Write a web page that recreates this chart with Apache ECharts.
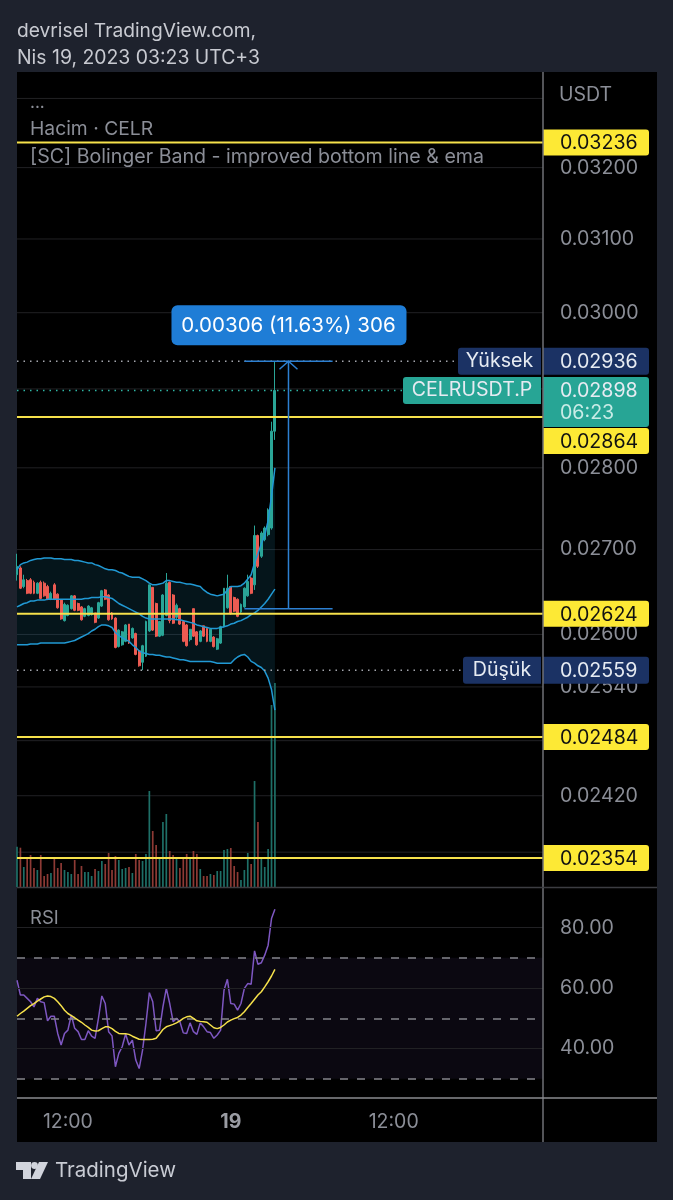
<!DOCTYPE html>
<html>
	<head>
		<meta charset="UTF-8">
		<title>CELRUSDT.P</title>
		<style>
			html, body { margin: 0; padding: 0; background: #1e222d; }
			#panel { position: absolute; left: 17px; top: 72px; width: 640px; height: 1070px; background: #000; }
			#main { position: absolute; left: 0; top: 0; width: 673px; height: 1200px; }
		</style>
	</head>
	<body>
		<div id="panel"></div>
		<div id="main"></div>
		<script src="https://cdn.jsdelivr.net/npm/echarts@6/dist/echarts.min.js"></script>
		<script type="text/javascript">
		// 15 minute bars
		var opens = [.02670,.02678,.02656,.02663,.02664,.02661,.02648,.02661,.02660,.02656,.02641,.02658,.02647,.02640,.02616,.02622,.02630,.02645,.02636,.02632,.02621,.02622,.02623,.02625,.02619,.02633,.02652,.02646,.02625,.02619,.02586,.02588,.02592,.02612,.02596,.02601,.02581,.02568,.02575,.02604,.02655,.02636,.02598,.02599,.02622,.02661,.02646,.02620,.02630,.02615,.02611,.02594,.02630,.02603,.02592,.02610,.02607,.02592,.02597,.02583,.02590,.02609,.02631,.02656,.02643,.02641,.02626,.02632,.02645,.02666,.02658,.02717,.02692,.02712,.02718,.02726,.02846];
		var closes = [.02680,.02654,.02664,.02648,.02648,.02648,.02660,.02642,.02645,.02641,.02648,.02641,.02631,.02618,.02635,.02634,.02645,.02628,.02628,.02617,.02630,.02633,.02631,.02614,.02637,.02651,.02641,.02617,.02618,.02585,.02605,.02603,.02611,.02590,.02607,.02577,.02564,.02587,.02615,.02658,.02605,.02598,.02615,.02646,.02660,.02616,.02613,.02634,.02612,.02592,.02587,.02606,.02598,.02588,.02604,.02598,.02592,.02606,.02586,.02595,.02609,.02654,.02654,.02624,.02627,.02621,.02635,.02654,.02662,.02648,.02717,.02680,.02720,.02726,.02748,.02846,.02898];
		var lows = [.02663,.02653,.02654,.02647,.02647,.02647,.02647,.02641,.02644,.02640,.02640,.02640,.02630,.02617,.02615,.02621,.02629,.02627,.02627,.02616,.02620,.02621,.02622,.02613,.02618,.02632,.02640,.02616,.02617,.02584,.02585,.02587,.02591,.02589,.02595,.02576,.02563,.02559,.02574,.02603,.02604,.02597,.02597,.02598,.02621,.02613,.02612,.02618,.02611,.02591,.02586,.02592,.02597,.02587,.02591,.02597,.02591,.02591,.02585,.02582,.02589,.02608,.02630,.02623,.02626,.02620,.02625,.02631,.02644,.02647,.02652,.02678,.02690,.02710,.02716,.02724,.02835];
		var highs = [.02695,.02680,.02670,.02665,.02666,.02663,.02661,.02663,.02662,.02658,.02650,.02660,.02648,.02641,.02637,.02635,.02646,.02646,.02637,.02633,.02631,.02634,.02632,.02625,.02638,.02652,.02653,.02647,.02626,.02620,.02606,.02604,.02612,.02612,.02608,.02602,.02582,.02588,.02616,.02658,.02655,.02637,.02615,.02647,.02672,.02662,.02647,.02636,.02631,.02616,.02612,.02606,.02630,.02604,.02605,.02610,.02607,.02606,.02598,.02596,.02610,.02654,.02670,.02656,.02644,.02642,.02636,.02655,.02670,.02668,.02729,.02718,.02722,.02728,.02750,.02858,.02936];
		var volumes = [40.3,39.3,20,29,32,19,17,32,11,13,14,28,19,24,17,15,13,27,13,21,15,15,11,18,16,26,23,34,17,31,27,18,19,20,14,33,27,26,33,96,56,42,28,65,73,36,32,28,19,30,33,28,36,33,18,11,11,13,12,16,16,37,38,39,21,15,7,17,34,23,106,65,28,20,38,182,204];
		var bandUpper = [.02676,.02682,.02684,.02685,.02687,.02688,.02689,.02689,.02690,.02690,.02690,.02689,.02689,.02689,.02688,.02688,.02688,.02687,.02687,.02686,.02685,.02684,.02684,.02682,.02681,.02679,.02677,.02676,.02676,.02675,.02673,.02672,.02670,.02668,.02667,.02667,.02667,.02665,.02663,.02660,.02658,.02658,.02659,.02660,.02663,.02663,.02662,.02661,.02661,.02660,.02659,.02659,.02658,.02657,.02656,.02652,.02649,.02647,.02646,.02645,.02646,.02647,.02652,.02656,.02656,.02656,.02657,.02660,.02665,.02670,.02684,.02695,.02707,.02717,.02735,.02765,.02800];
		var bandBasis = [.02632,.02634,.02636,.02637,.02639,.02639,.02640,.02640,.02640,.02641,.02641,.02641,.02641,.02641,.02641,.02641,.02641,.02641,.02641,.02641,.02642,.02642,.02643,.02643,.02643,.02644,.02644,.02643,.02642,.02639,.02636,.02634,.02632,.02630,.02628,.02626,.02624,.02621,.02619,.02618,.02618,.02618,.02618,.02618,.02618,.02618,.02618,.02617,.02617,.02616,.02615,.02614,.02613,.02611,.02610,.02609,.02608,.02607,.02607,.02607,.02608,.02609,.02610,.02612,.02613,.02615,.02616,.02618,.02620,.02623,.02625,.02628,.02632,.02636,.02641,.02647,.02653];
		var bandLower = [.02588,.02588,.02588,.02588,.02589,.02589,.02589,.02590,.02590,.02590,.02590,.02590,.02590,.02590,.02590,.02591,.02592,.02593,.02595,.02597,.02599,.02601,.02604,.02606,.02609,.02611,.02611,.02610,.02608,.02602,.02599,.02596,.02594,.02592,.02588,.02585,.02581,.02579,.02578,.02577,.02577,.02576,.02576,.02575,.02574,.02574,.02573,.02572,.02571,.02571,.02570,.02569,.02569,.02569,.02569,.02569,.02569,.02569,.02568,.02567,.02567,.02567,.02567,.02567,.02571,.02574,.02576,.02577,.02574,.02569,.02567,.02564,.02562,.02558,.02550,.02537,.02514];
		var rsiValues = [62.6,57.7,57.7,56.6,55.5,53.8,56.6,55.5,55.2,49.2,50.7,50.7,45,41.2,45,46.1,51.1,46.7,45.6,43,43,45.9,44.1,43.4,50,57.4,54.9,45.6,44.2,34,38.4,40.6,44.8,41.2,42.8,36.2,33.4,39.5,48.3,58.5,55.5,45.9,46.1,53.8,59.9,54.9,48.9,50,48.9,45.2,45,48.5,45.6,44.7,48.5,47.2,45.6,45.3,43.4,44.5,46.1,59.3,62.9,54.9,54.7,52.7,54.9,59.9,61.5,61.3,72.3,67.9,68.4,70.9,74.2,83,86.1];
		var rsiMa = [50.7,51.6,52.4,53.3,54.2,54.9,55.7,56.4,57.1,57.4,57.2,56.6,55.5,54.2,52.7,51.6,50.9,50.2,49.4,48.7,47.8,47,46.1,45.8,45.9,46.6,47.2,47.2,46.6,45.7,45,44.9,44.9,44.7,44.1,43.6,43.1,43,43,43,43.1,43.4,44.8,46.3,47.2,47.6,48,48.5,49.2,50,50.5,50.7,50,49.2,49,48.9,48.7,47.8,46.9,46.6,47,47.8,48.8,49.4,49.9,50.3,51.1,52.2,53.6,54.9,56.3,57.7,58.8,60.4,62.1,64,66.2];

		var priceGrid = [.033,.032,.031,.03,.029,.028,.027,.026,.0254,.0248,.0242,.0236];
		var priceLabels = [.032,.031,.03,.028,.027,.026,.0254,.0242];
		var levelPrices = [.03236,.02864,.02624,.02484,.02354];
		var highPrice = .02936;
		var lastPrice = .02898;
		var lowPrice = .02559;
		var countdown = '06:23';
		var rsiGrid = [80,60,40];
		var rsiDashed = [70,50,30];
		var measure = [67, 93, 80, .0263, .02936];
		var measureText = '0.00306 (11.63%) 306';

		// time slots from 18 Apr 08:15 to the right edge of the chart
		var timeSlots = [];
		for (var s = 0; s < 156; s++) {
			var mins = (8 * 60 + 15 + s * 15) % 1440;
			var hh = Math.floor(mins / 60), mm = mins % 60;
			timeSlots.push((hh < 10 ? '0' : '') + hh + ':' + (mm < 10 ? '0' : '') + mm);
		}

		var FONT = 'Inter, "Noto Sans", sans-serif';
		var GREY = '#8b8e97';
		var UP = '#2aa597', DOWN = '#ec5b52';
		var YELLOW = '#f6e14b', TAG_YELLOW = '#fde935';
		var NAVY = '#1b3264', TEAL = '#27a595', BLUE = '#2d80d2', BAND = '#2199d4';
		var PURPLE = '#7e57c2';

		var candles = [];
		for (var i = 0; i < opens.length; i++) {
			candles.push([opens[i], closes[i], lows[i], highs[i]]);
		}

		function hLines(values, style) {
			return values.map(function (v) {
				return { yAxis: v, lineStyle: style };
			});
		}

		// markLine lands in the wrong place on the log axis, so price lines go through api.coord
		var lineKinds = [
			{ stroke: '#212124', lineWidth: 1 },
			{ stroke: YELLOW, lineWidth: 2 },
			{ stroke: '#a4a6ad', lineWidth: 1.5, lineDash: [1.5, 5] },
			{ stroke: '#2fb8a6', lineWidth: 1.5, lineDash: [1.5, 5] }
		];
		function priceRows(values, kind) {
			return values.map(function (v) { return [v, kind]; });
		}
		function renderPriceLine(params, api) {
			var a = api.coord([0, api.value(0)]);
			var b = api.coord([timeSlots.length - 1, api.value(0)]);
			return { type: 'line', shape: { x1: a[0], y1: a[1], x2: b[0], y2: a[1] }, style: lineKinds[api.value(1)] };
		}

		function renderBandFill(params, api) {
			if (params.dataIndex !== 0) return null;
			var pts = [], n = bandUpper.length;
			for (var k = 0; k < n; k++) pts.push(api.coord([k, bandUpper[k]]));
			for (var j = n - 1; j >= 0; j--) pts.push(api.coord([j, bandLower[j]]));
			return { type: 'polygon', shape: { points: pts }, style: { fill: 'rgba(36,150,190,0.14)' } };
		}

		function renderMeasure(params, api) {
			var a = api.coord([api.value(0), api.value(4)]);
			var b = api.coord([api.value(1), api.value(3)]);
			var mid = api.coord([api.value(2), api.value(4)])[0];
			var line = { stroke: BLUE, lineWidth: 1.5, fill: null };
			return {
				type: 'group',
				children: [
					{ type: 'line', shape: { x1: a[0], y1: a[1], x2: b[0], y2: a[1] }, style: line },
					{ type: 'line', shape: { x1: a[0], y1: b[1], x2: b[0], y2: b[1] }, style: line },
					{ type: 'line', shape: { x1: mid, y1: a[1], x2: mid, y2: b[1] }, style: line },
					{ type: 'polyline', shape: { points: [[mid - 9, a[1] + 8], [mid, a[1]], [mid + 9, a[1] + 8]] }, style: line },
					{ type: 'rect', shape: { x: mid - 117, y: a[1] - 56, width: 235, height: 40, r: 6 }, style: { fill: '#1f7dd6' } },
					{ type: 'text', style: { x: mid, y: a[1] - 35, text: measureText, fill: '#fff', font: '20.5px ' + FONT, align: 'center', verticalAlign: 'middle' } }
				]
			};
		}

		// price tags on the axis: [price, kind]
		var tagNames = ['Yüksek', 'CELRUSDT.P', 'Düşük'];
		var tagRows = [
			[highPrice, 0], [lastPrice, 1], [lowPrice, 2],
			[levelPrices[0], 3], [levelPrices[1], 3], [levelPrices[2], 3], [levelPrices[3], 3], [levelPrices[4], 3]
		];
		var nameWidths = [83, 138, 78];
		function renderTag(params, api) {
			var price = api.value(0), kind = api.value(1);
			var y = api.coord([0, price])[1];
			// the 0.02864 tag gets pushed down under the last price tag
			if (price === levelPrices[1]) y += 24;
			var font = '19.6px ' + FONT;
			var children = [];
			var fill = kind === 3 ? TAG_YELLOW : (kind === 1 ? TEAL : NAVY);
			var ink = kind === 3 ? '#111' : '#e6ebf2';
			var h = kind === 3 ? 26 : 27;
			var top = y - h / 2;
			var tall = kind === 1 ? 50 : h;
			children.push({ type: 'rect', shape: { x: 543, y: top, width: 106, height: tall, r: [0, 3, 3, 0] }, style: { fill: fill } });
			children.push({ type: 'text', style: { x: 560, y: y + 1, text: price.toFixed(5), fill: ink, font: font, verticalAlign: 'middle' } });
			if (kind === 1) {
				children.push({ type: 'text', style: { x: 560, y: y + 23, text: countdown, fill: '#c9ece7', font: font, verticalAlign: 'middle' } });
			}
			if (kind !== 3) {
				var w = nameWidths[kind];
				children.push({ type: 'rect', shape: { x: 541 - w, y: top, width: w, height: h, r: [3, 0, 0, 3] }, style: { fill: fill } });
				children.push({ type: 'text', style: { x: 541 - w / 2, y: y, text: tagNames[kind], fill: ink, font: font, align: 'center', verticalAlign: 'middle' } });
			}
			return { type: 'group', children: children };
		}

		function label(x, y, text, color, size) {
			return { type: 'text', z: 20, style: { x: x, y: y, text: text, fill: color, font: size + 'px ' + FONT, verticalAlign: 'middle' } };
		}
		function rule(x1, y1, x2, y2, color, width) {
			return { type: 'line', z: 15, shape: { x1: x1, y1: y1, x2: x2, y2: y2 }, style: { stroke: color, lineWidth: width } };
		}

		var hiddenX = { type: 'category', data: timeSlots, boundaryGap: false, show: false };
		var gridStyle = { color: '#212124', width: 1, type: 'solid' };

		var myChart = echarts.init(document.getElementById('main'));
		myChart.setOption({
			animation: false,
			backgroundColor: 'transparent',
			textStyle: { fontFamily: FONT },
			grid: [
				{ left: 17, top: 72.7, width: 526, height: 815 },
				{ left: 17, top: 683, width: 526, height: 204 },
				{ left: 17, top: 889.5, width: 526, height: 209 }
			],
			xAxis: [
				Object.assign({ gridIndex: 0 }, hiddenX),
				Object.assign({ gridIndex: 1 }, hiddenX),
				{
					gridIndex: 2, type: 'category', data: timeSlots, boundaryGap: false,
					axisLine: { show: false }, axisTick: { show: false }, splitLine: { show: false },
					axisLabel: {
						interval: function (idx) { return idx === 15 || idx === 63 || idx === 111; },
						margin: 14, fontSize: 19.5, color: GREY, fontFamily: FONT, showMinLabel: true,
						formatter: function (v, idx) { return idx === 63 ? '{b|19}' : v; },
						rich: { b: { fontSize: 19.5, fontWeight: 'bold', color: '#9a9ca3', fontFamily: FONT } }
					}
				}
			],
			yAxis: [
				{
					gridIndex: 0, type: 'log', logBase: 10, min: .02323, max: .03338, position: 'right',
					axisLine: { show: false }, axisTick: { show: false }, splitLine: { show: false },
					axisLabel: {
						customValues: priceLabels, margin: 17, fontSize: 19.6, color: GREY, fontFamily: FONT, padding: [3, 0, 0, 0],
						formatter: function (v) { return (+v).toFixed(5); }
					}
				},
				{ gridIndex: 1, type: 'value', min: 0, max: 204, show: false },
				{
					gridIndex: 2, type: 'value', min: 23.5, max: 92.6, position: 'right',
					axisLine: { show: false }, axisTick: { show: false }, splitLine: { show: false },
					axisLabel: {
						customValues: rsiGrid, margin: 17, fontSize: 19.6, color: GREY, fontFamily: FONT, padding: [3, 0, 0, 0],
						formatter: function (v) { return (+v).toFixed(2); }
					}
				}
			],
			series: [
				{
					type: 'custom', xAxisIndex: 0, yAxisIndex: 0, z: 1, silent: true,
					renderItem: renderPriceLine, data: priceRows(priceGrid, 0), encode: { x: -1, y: 0 }
				},
				{
					type: 'custom', xAxisIndex: 0, yAxisIndex: 0, z: 2, silent: true,
					renderItem: renderBandFill, data: [[0, bandUpper[0]]]
				},
				{
					type: 'bar', xAxisIndex: 1, yAxisIndex: 1, data: volumes, barWidth: 1.7, z: 3, silent: true,
					itemStyle: {
						color: function (p) { return closes[p.dataIndex] >= opens[p.dataIndex] ? '#1e6f67' : '#8d3a35'; }
					}
				},
				{
					type: 'candlestick', xAxisIndex: 0, yAxisIndex: 0, data: candles, barWidth: 2.4, z: 4, silent: true,
					itemStyle: { color: UP, color0: DOWN, borderColor: UP, borderColor0: DOWN, borderWidth: 1 }
				},
				{ type: 'line', xAxisIndex: 0, yAxisIndex: 0, data: bandUpper, z: 5, symbol: 'none', silent: true, lineStyle: { color: BAND, width: 1.5 } },
				{ type: 'line', xAxisIndex: 0, yAxisIndex: 0, data: bandBasis, z: 5, symbol: 'none', silent: true, lineStyle: { color: BAND, width: 1.5 } },
				{ type: 'line', xAxisIndex: 0, yAxisIndex: 0, data: bandLower, z: 5, symbol: 'none', silent: true, lineStyle: { color: BAND, width: 1.5 } },
				{
					// yellow levels and dotted high / low / last lines
					type: 'custom', xAxisIndex: 0, yAxisIndex: 0, z: 6, silent: true,
					renderItem: renderPriceLine, encode: { x: -1, y: 0 },
					data: priceRows(levelPrices, 1).concat(priceRows([highPrice, lowPrice], 2), priceRows([lastPrice], 3))
				},
				{
					type: 'custom', xAxisIndex: 0, yAxisIndex: 0, z: 7, silent: true,
					renderItem: renderMeasure, data: [measure]
				},
				{
					type: 'custom', xAxisIndex: 0, yAxisIndex: 0, z: 8, silent: true,
					renderItem: renderTag, data: tagRows,
					encode: { x: -1, y: 0 }
				},
				{
					type: 'line', xAxisIndex: 2, yAxisIndex: 2, data: rsiValues, z: 4, symbol: 'none', silent: true,
					lineStyle: { color: PURPLE, width: 1.5 },
					markArea: {
						silent: true, animation: false,
						itemStyle: { color: 'rgba(126,87,194,0.09)' },
						data: [[{ yAxis: rsiDashed[0] }, { yAxis: rsiDashed[2] }]]
					},
					markLine: {
						silent: true, symbol: 'none', animation: false, label: { show: false },
						data: hLines(rsiGrid, gridStyle).concat(hLines(rsiDashed, { color: '#85858c', width: 1.5, type: [8, 9] }))
					}
				},
				{ type: 'line', xAxisIndex: 2, yAxisIndex: 2, data: rsiMa, z: 5, symbol: 'none', silent: true, lineStyle: { color: YELLOW, width: 1.5 } }
			],
			graphic: [
				rule(543, 72, 543, 1142, '#6f7076', 1.5),
				rule(17, 887.5, 657, 887.5, '#3c3d42', 1.5),
				rule(17, 1098, 657, 1098, '#8a8b8f', 1.5),
				label(17, 31, 'devrisel TradingView.com,', '#c8cad1', 19.2),
				label(17, 58, 'Nis 19, 2023 03:23 UTC+3', '#c8cad1', 19.4),
				label(30, 103, '...', GREY, 17),
				label(30, 129, 'Hacim · CELR', GREY, 19.3),
				label(30, 157, '[SC] Bolinger Band - improved bottom line & ema', GREY, 19.6),
				label(559, 95, 'USDT', GREY, 19.5),
				label(30, 918, 'RSI', GREY, 18.5),
				label(55, 1171, 'TradingView', '#c9ccd4', 20.5),
				{ type: 'polygon', z: 20, shape: { points: [[16, 1162], [31, 1162], [31, 1179], [23, 1179], [23, 1170], [16, 1170]] }, style: { fill: '#d1d4dc' } },
				{ type: 'circle', z: 20, shape: { cx: 34.5, cy: 1165.5, r: 3.4 }, style: { fill: '#d1d4dc' } },
				{ type: 'polygon', z: 20, shape: { points: [[39, 1162], [48, 1162], [40, 1179], [31, 1179]] }, style: { fill: '#d1d4dc' } }
			]
		});
		</script>
	</body>
</html>
